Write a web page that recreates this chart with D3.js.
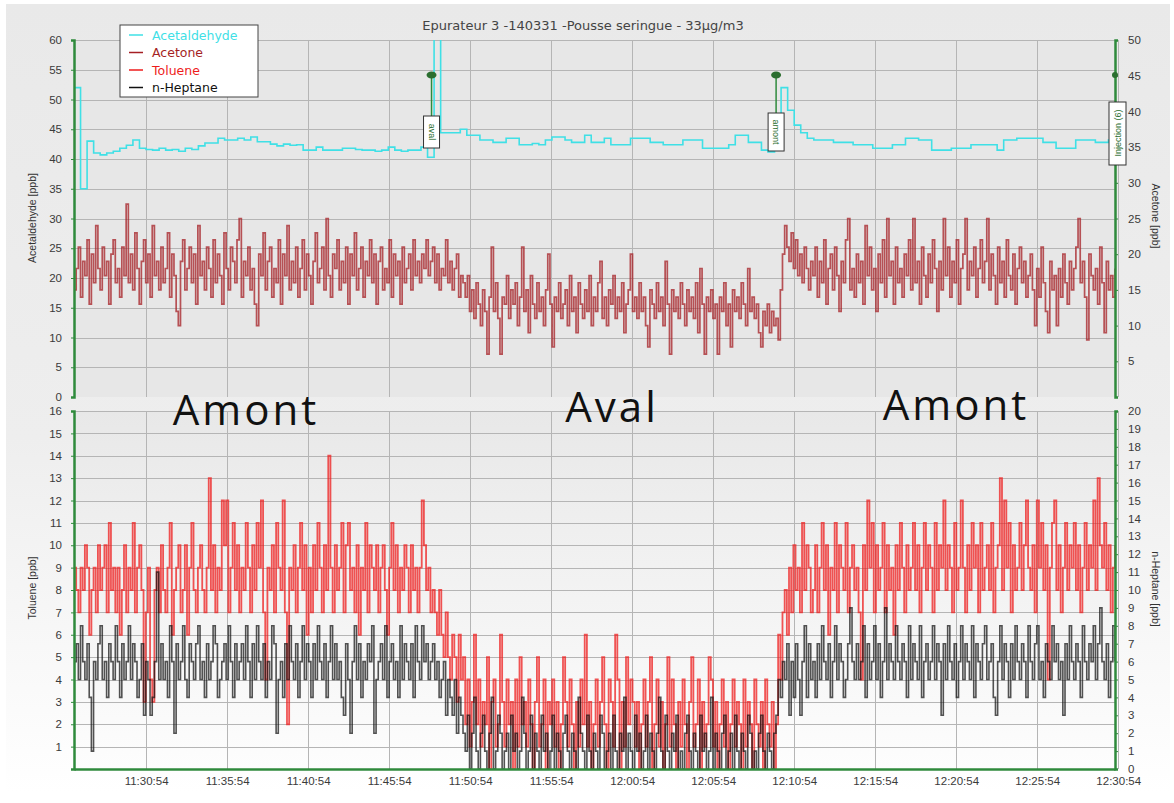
<!DOCTYPE html>
<meta charset="utf-8">
<head>
    <style>
        body{
            margin: 0;
            background-color: #ffffff;
            font-family: "Liberation Sans", Arial, sans-serif;
        }
        .grid line {
            stroke: #b5b5b5;
            stroke-width: 1;
            shape-rendering: crispEdges;
        }
        .axis text{
            font-size: 11.5px;
            fill: #3a3a3a;
        }
        .big{
            font-family: "Open Sans", sans-serif;
            font-size: 42px;
            letter-spacing: 3px;
            fill: #111;
        }
    </style>
</head>
<body>
<div id="chart"></div>
<script src="https://d3js.org/d3.v7.min.js"></script>
<script>

    // ---- data ----
    const startTime = "11:26:27";
    const endTime = "12:30:42";
    const timeTicks = ["11:30:54","11:35:54","11:40:54","11:45:54","11:50:54","11:55:54",
        "12:00:54","12:05:54","12:10:54","12:15:54","12:20:54","12:25:54","12:30:54"];

    const seriesNames = ["Acetaldehyde", "Acetone", "Toluene", "n-Heptane"];
    const seriesColors = ["#3fe0e6", "#a51f24", "#ee1c1c", "#111111"];

    // Acetaldehyde [ppb], top panel, left axis
    const acetaldehyde = [
        52,35,43,41,40.7,41,41.3,41.8,42.3,43.2,41.8,41.6,41.5,41.8,41.5,41.6,41.3,41.8,41.6,42.2,
        42.7,42.7,43.5,43.2,43.2,43.5,43.2,43.7,42.9,42.9,42.5,42.2,42.5,42.3,42.4,41.5,41.5,42,41.5,41.5,
        41.5,41.8,41.8,41.6,41.5,41.5,41.3,41.5,42,41.5,41.3,41.5,41.5,42,40.3,65,44.4,44.4,44.4,45,
        44,44,43.2,43.2,42.8,42.8,43.5,43.5,42.4,42.4,42.6,42.4,43.2,43.7,43.7,43.2,42.8,42.8,44,42.8,
        42.8,43.5,42.4,42.4,42.4,43.5,43.5,43.5,42.8,42.8,42.4,42.4,42.4,43.2,43.2,43.2,41.8,41.8,41.8,41.8,
        42.4,44,44,42.8,42.8,41.5,41.2,41.5,52,48.2,45.7,44.4,43.5,43.2,43.2,43.2,42.8,42.8,42.8,42.4,
        42.4,42.4,41.8,41.8,41.8,42.4,42.4,43.5,43.5,43.2,43.2,41.5,41.5,41.5,41.8,41.8,41.8,42.4,42.4,42.4,
        42.4,41.5,43.2,43.2,43.5,43.5,43.5,43.5,42.8,42.8,41.8,41.8,41.8,43.2,43.2,43.2,42.8,42.8,43.2,43.2
    ];

    // Acetone [ppb], top panel, right axis
    const acetone = [
        15,18,21,14,19,17,22,13,20,16,24,18,15,21,17,19,13,20,22,16,
        18,14,21,17,27,16,20,15,23,18,13,19,22,16,20,14,24,17,19,15,
        21,16,18,23,14,20,17,12,10,19,22,15,18,21,16,20,13,24,17,19,
        15,21,18,14,22,16,20,17,13,23,18,15,21,19,16,22,25,14,19,17,
        21,15,18,13,10,20,17,23,15,19,21,14,18,16,22,13,20,17,24,15,
        19,16,21,14,18,22,15,20,17,13,19,23,16,18,21,15,25,17,14,20,
        18,22,15,19,16,21,13,20,17,23,15,18,21,14,19,17,22,16,20,13,
        19,21,15,18,16,22,14,20,17,19,13,21,16,18,20,15,22,17,19,16,
        20,18,22,17,19,21,16,20,15,18,17,22,16,19,15,18,20,14,17,16,
        14,17,12,15,11,16,13,10,15,12,6,14,21,12,16,11,6,14,13,17,
        11,15,13,16,10,14,21,12,15,9,17,13,11,16,12,14,10,15,20,13,
        7,14,12,16,11,13,15,10,17,12,14,9,16,13,11,15,12,17,10,14,
        12,16,19,11,14,10,15,13,17,11,14,12,16,9,13,15,20,12,14,11,
        16,12,14,10,7,15,13,11,16,12,14,10,19,13,6,15,12,14,11,16,
        13,10,15,12,14,11,16,9,18,13,6,14,12,15,11,13,6,14,12,16,
        10,13,7,15,12,14,11,16,13,10,18,12,14,11,13,9,7,12,10,13,
        9,12,10,11,8,15,20,24,21,19,23,18,22,17,20,16,21,18,15,19,
        17,21,14,19,16,22,13,18,20,15,21,17,12,19,16,22,25,15,18,14,
        20,16,19,13,24,17,21,15,18,12,20,16,22,14,25,17,19,13,21,16,
        18,14,20,17,22,15,25,16,19,13,21,17,14,20,16,22,18,12,19,15,
        25,17,21,14,19,16,22,13,18,20,25,15,19,17,21,14,18,22,16,19,
        25,15,20,17,13,21,16,19,14,22,17,15,20,13,18,21,16,19,14,17,
        20,15,10,18,14,21,16,12,9,19,15,17,10,18,14,20,16,13,19,15,
        18,21,25,16,19,14,8,20,17,15,18,13,21,16,9,19,15,17,14,18
    ];

    // Toluene [ppb], lower panel, left axis
    const toluene = [
        9,8,7,9,8,10,9,6,8,9,7,10,8,9,10,7,11,8,9,7,
        9,6,8,10,7,9,8,11,7,9,10,8,3,7,9,4,3,8,9,7,
        10,8,7,9,11,6,8,9,10,7,8,10,6,9,11,8,7,9,10,8,
        7,9,13,8,10,7,9,8,12,10,12,7,9,11,8,10,7,9,8,11,
        9,7,10,8,11,9,12,7,4,9,8,10,7,11,9,8,12,7,2,9,
        8,10,7,9,11,8,10,6,9,7,10,8,11,9,7,10,8,14,9,7,
        10,8,9,11,7,10,11,8,9,7,10,6,9,8,11,7,10,9,8,10,
        7,9,10,8,6,9,11,8,10,7,9,8,10,9,7,10,8,9,7,9,
        12,10,8,9,7,8,7,6,8,6,5,7,5,4,6,5,3,6,4,5,
        2,4,1,3,6,2,4,1,3,2,5,0,3,4,1,2,6,3,1,4,
        2,3,0,4,1,5,2,3,1,4,2,0,3,5,1,2,4,0,3,2,
        4,1,3,0,2,5,3,1,4,2,0,3,1,4,2,6,1,3,0,2,
        4,1,3,5,2,0,4,3,1,6,4,0,3,1,5,2,4,3,1,3,
        0,2,4,1,3,5,0,2,4,1,3,0,2,5,1,4,2,0,3,1,
        4,2,0,3,5,1,2,4,0,3,1,2,5,4,1,3,0,2,4,1,
        3,0,2,4,1,3,2,0,4,1,3,2,0,4,2,1,3,0,4,2,
        1,3,0,2,6,4,7,8,6,9,7,10,8,9,7,11,8,10,9,7,
        8,10,7,9,11,8,10,6,9,8,11,7,10,9,8,11,7,9,10,8,
        9,7,4,10,8,12,9,11,7,10,8,9,11,7,10,8,9,6,10,8,
        11,9,7,10,8,9,11,8,10,7,9,11,8,10,9,7,11,8,10,9,
        12,8,10,9,7,11,8,9,12,9,7,10,8,11,9,10,7,11,8,9,
        10,8,11,7,9,10,13,8,12,9,11,7,10,8,9,11,8,10,12,9,
        8,10,7,12,9,11,8,10,4,9,11,12,8,10,7,9,11,8,10,9,
        11,8,10,7,9,11,8,10,9,12,8,13,10,9,11,8,10,7,9,10
    ];

    // n-Heptane [ppb], lower panel, right axis
    const heptane = [
        6,7,5,8,6,5,7,4,1,6,5,7,8,5,6,4,7,6,5,8,
        6,4,7,5,6,8,5,7,6,4,5,7,3,6,5,3,4,6,11,5,
        7,5,6,4,8,6,2,7,5,6,8,5,4,7,6,5,7,8,5,6,
        4,7,5,6,8,7,4,5,6,7,5,8,6,4,7,5,6,7,5,8,
        6,4,7,5,8,6,5,7,4,6,5,8,7,2,5,6,4,7,5,8,
        6,5,7,4,6,8,5,7,6,4,7,5,8,6,5,7,4,6,8,5,
        7,5,6,4,3,7,5,2,6,8,5,7,4,6,5,7,6,8,2,5,
        6,7,5,8,4,6,7,5,6,4,8,5,7,6,5,7,4,8,6,5,
        8,6,7,5,6,7,5,6,4,5,6,3,5,4,3,5,2,4,3,2,
        1,3,0,2,4,1,0,2,3,1,0,2,4,0,1,3,2,0,1,2,
        0,3,1,2,0,1,4,2,0,1,3,0,2,1,0,3,1,2,0,1,
        3,0,2,1,0,2,3,1,0,2,1,0,4,2,1,0,3,1,0,2,
        1,0,3,2,0,1,2,0,3,1,0,2,1,4,0,2,1,0,3,1,
        2,0,1,3,0,2,1,0,2,4,1,0,3,1,0,2,1,3,0,1,
        0,2,3,1,0,2,1,0,3,1,2,0,1,4,0,2,1,0,2,3,
        0,1,2,0,3,1,0,2,1,0,3,2,0,1,0,2,3,1,0,2,
        1,0,2,3,5,4,6,5,7,3,6,4,7,5,3,6,8,4,7,5,
        6,4,7,5,8,6,5,7,4,6,8,5,7,6,4,5,7,9,6,5,
        7,5,6,8,4,7,5,6,8,5,7,4,6,9,5,7,6,5,8,6,
        5,7,6,4,8,5,7,6,5,8,4,6,7,5,6,8,5,7,6,3,
        7,5,8,6,5,7,4,6,8,5,7,6,5,8,4,7,6,5,7,8,
        5,6,7,4,3,6,8,5,7,6,4,7,5,8,6,5,7,6,4,8,
        6,5,7,8,5,6,4,7,6,5,8,6,7,5,6,3,7,5,8,6,
        5,7,6,4,8,6,5,7,6,8,5,7,9,6,5,7,4,6,8,6
    ];

    // event markers
    const markers = [
        {time: "11:48:31", label: "aval"},
        {time: "12:09:47", label: "amont"}
    ];
    const injectionLabel = "Injection (6)";

    // ---- layout ----
    const W = 1174, H = 803;
    const plotLeft = 74, plotRight = 1115;
    const top1 = 40, bottom1 = 397;
    const top2 = 411, bottom2 = 769;
    const day = "2014-03-31T";
    const parse = s => new Date(day + s);

    const svg = d3.select("#chart")
        .append("svg")
        .attr("width", W)
        .attr("height", H);

    const defs = svg.append("defs");
    const bgGrad = defs.append("linearGradient").attr("id", "bg").attr("x1", 0).attr("y1", 0).attr("x2", 0).attr("y2", 1);
    bgGrad.append("stop").attr("offset", "0%").attr("stop-color", "#e9e9e9");
    bgGrad.append("stop").attr("offset", "55%").attr("stop-color", "#eeeeee");
    bgGrad.append("stop").attr("offset", "100%").attr("stop-color", "#ffffff");
    const lowGrad = defs.append("linearGradient").attr("id", "low").attr("x1", 0).attr("y1", 0).attr("x2", 0).attr("y2", 1);
    lowGrad.append("stop").attr("offset", "0%").attr("stop-color", "#e8e8e8");
    lowGrad.append("stop").attr("offset", "100%").attr("stop-color", "#fdfdfd");
    defs.append("clipPath").attr("id", "clip1").append("rect")
        .attr("x", plotLeft).attr("y", top1).attr("width", plotRight - plotLeft).attr("height", bottom1 - top1);
    defs.append("clipPath").attr("id", "clip2").append("rect")
        .attr("x", plotLeft).attr("y", top2).attr("width", plotRight - plotLeft).attr("height", bottom2 - top2);

    svg.append("rect").attr("x", 6).attr("y", 4).attr("width", W - 10).attr("height", H - 14).attr("fill", "url(#bg)");
    svg.append("rect").attr("x", plotLeft).attr("y", top1).attr("width", plotRight - plotLeft)
        .attr("height", bottom1 - top1).attr("fill", "#e7e7e7");
    svg.append("rect").attr("x", plotLeft).attr("y", top2).attr("width", plotRight - plotLeft)
        .attr("height", bottom2 - top2).attr("fill", "url(#low)");

    // scales
    const x = d3.scaleTime().domain([parse(startTime), parse(endTime)]).range([plotLeft, plotRight]);
    const yAcetal = d3.scaleLinear().domain([0, 60]).range([bottom1, top1]);
    const yAcetone = d3.scaleLinear().domain([0, 50]).range([bottom1, top1]);
    const yTol = d3.scaleLinear().domain([0, 16]).range([bottom2, top2]);
    const yHept = d3.scaleLinear().domain([0, 20]).range([bottom2, top2]);
    const tickDates = timeTicks.map(parse);

    // gridlines
    svg.append("g").attr("class", "grid")
        .attr("transform", `translate(0,${bottom1})`)
        .call(d3.axisBottom(x).tickValues(tickDates).tickSize(-(bottom1 - top1)).tickFormat(""))
        .call(g => g.select(".domain").remove());
    svg.append("g").attr("class", "grid")
        .attr("transform", `translate(0,${bottom2})`)
        .call(d3.axisBottom(x).tickValues(tickDates).tickSize(-(bottom2 - top2)).tickFormat(""))
        .call(g => g.select(".domain").remove());
    svg.append("g").attr("class", "grid")
        .attr("transform", `translate(${plotLeft},0)`)
        .call(d3.axisLeft(yAcetal).tickValues(d3.range(5, 61, 5)).tickSize(-(plotRight - plotLeft)).tickFormat(""))
        .call(g => g.select(".domain").remove());
    svg.append("g").attr("class", "grid")
        .attr("transform", `translate(${plotLeft},0)`)
        .call(d3.axisLeft(yTol).tickValues(d3.range(1, 17)).tickSize(-(plotRight - plotLeft)).tickFormat(""))
        .call(g => g.select(".domain").remove());

    // series
    function timesFor(arr) {
        const t0 = parse(startTime).getTime(), t1 = parse(endTime).getTime();
        return arr.map((v, i) => ({t: new Date(t0 + i * (t1 - t0) / (arr.length - 1)), v: v}));
    }
    function drawSeries(arr, yScale, color, clip, width, opacity) {
        svg.append("path")
            .datum(timesFor(arr))
            .attr("clip-path", `url(#${clip})`)
            .attr("fill", "none")
            .attr("stroke", color)
            .attr("stroke-width", width)
            .attr("stroke-opacity", opacity)
            .attr("d", d3.line()
                .curve(d3.curveStepAfter)
                .x(d => x(d.t))
                .y(d => yScale(d.v)));
    }
    drawSeries(acetone, yAcetone, seriesColors[1], "clip1", 1.7, 0.75);
    drawSeries(acetaldehyde, yAcetal, seriesColors[0], "clip1", 1.6, 1);
    drawSeries(toluene, yTol, seriesColors[2], "clip2", 1.8, 0.75);
    drawSeries(heptane, yHept, seriesColors[3], "clip2", 1.6, 0.72);

    // axes (green spines)
    const green = "#2f8a3c";
    function yAxis(scale, side, xPos, values) {
        const ax = side === "left" ? d3.axisLeft(scale) : d3.axisRight(scale);
        const g = svg.append("g").attr("class", "axis")
            .attr("transform", `translate(${xPos},0)`)
            .call(ax.tickValues(values).tickSize(3).tickPadding(side === "left" ? 9 : 10));
        g.select(".domain").attr("stroke", green).attr("stroke-width", 2.5);
        g.selectAll(".tick line").attr("stroke", green);
        return g;
    }
    yAxis(yAcetal, "left", plotLeft, d3.range(0, 61, 5));
    yAxis(yAcetone, "right", plotRight, d3.range(5, 51, 5));
    yAxis(yTol, "left", plotLeft, d3.range(1, 17));
    yAxis(yHept, "right", plotRight, d3.range(0, 21));

    const xAx = svg.append("g").attr("class", "axis")
        .attr("transform", `translate(0,${bottom2})`)
        .call(d3.axisBottom(x).tickValues(tickDates).tickSize(0).tickPadding(8).tickFormat(d3.timeFormat("%H:%M:%S")));
    xAx.select(".domain").attr("stroke", green).attr("stroke-width", 2.5);

    // axis titles
    function axisTitle(text, xPos, yPos, rot) {
        svg.append("text")
            .attr("transform", `translate(${xPos},${yPos}) rotate(${rot})`)
            .attr("text-anchor", "middle")
            .style("font-size", "10.5px")
            .style("fill", "#333")
            .text(text);
    }
    axisTitle("Acetaldehyde [ppb]", 36, 218, -90);
    axisTitle("Acetone [ppb]", 1152, 216, 90);
    axisTitle("Toluene [ppb]", 36, 588, -90);
    axisTitle("n-Heptane [ppb]", 1152, 589, 90);

    // title
    svg.append("text")
        .attr("x", 583).attr("y", 30)
        .attr("text-anchor", "middle")
        .style("font-family", "'DejaVu Sans', sans-serif")
        .style("font-size", "13px")
        .style("fill", "#444")
        .text("Epurateur 3 -140331 -Pousse seringue - 33µg/m3");

    // markers
    markers.forEach(m => {
        const mx = x(parse(m.time));
        const boxH = m.label.length * 6 + 8;
        svg.append("line").attr("x1", mx).attr("x2", mx).attr("y1", 75).attr("y2", 132 - boxH / 2)
            .attr("stroke", green).attr("stroke-width", 1.5);
        svg.append("ellipse").attr("cx", mx).attr("cy", 75).attr("rx", 5).attr("ry", 3.5).attr("fill", "#2b6e2f");
        svg.append("rect").attr("x", mx - 8).attr("y", 132 - boxH / 2).attr("width", 16).attr("height", boxH)
            .attr("fill", "#fff").attr("stroke", "#333");
        svg.append("text").attr("transform", `translate(${mx - 3},132) rotate(90)`)
            .attr("text-anchor", "middle").style("font-size", "9px").style("fill", "#2b6e2f").text(m.label);
    });
    svg.append("circle").attr("cx", plotRight).attr("cy", 75).attr("r", 3).attr("fill", "#2b6e2f");
    svg.append("rect").attr("x", plotRight - 6).attr("y", 102).attr("width", 17).attr("height", 63)
        .attr("fill", "#fff").attr("stroke", "#333");
    svg.append("text").attr("transform", `translate(${plotRight + 6},133) rotate(-90)`)
        .attr("text-anchor", "middle").style("font-size", "9px").style("fill", "#2b6e2f").text(injectionLabel);

    // legend
    const lg = svg.append("g").attr("transform", "translate(120,25)");
    lg.append("rect").attr("width", 138).attr("height", 72).attr("fill", "#fff").attr("stroke", "#444");
    seriesNames.forEach((n, i) => {
        lg.append("line").attr("x1", 9).attr("x2", 23).attr("y1", 10 + i * 17.5).attr("y2", 10 + i * 17.5)
            .attr("stroke", seriesColors[i]).attr("stroke-width", 1.5);
        lg.append("text").attr("x", 32).attr("y", 14.5 + i * 17.5)
            .style("font-family", "'DejaVu Sans', sans-serif")
            .style("font-size", "12.5px").style("fill", seriesColors[i]).text(n);
    });

    // zone labels
    svg.append("text").attr("class", "big").attr("x", 246).attr("y", 425).attr("text-anchor", "middle").text("Amont");
    svg.append("text").attr("class", "big").attr("x", 612).attr("y", 422).attr("text-anchor", "middle").text("Aval");
    svg.append("text").attr("class", "big").attr("x", 956).attr("y", 420).attr("text-anchor", "middle").text("Amont");

</script>
</body>
